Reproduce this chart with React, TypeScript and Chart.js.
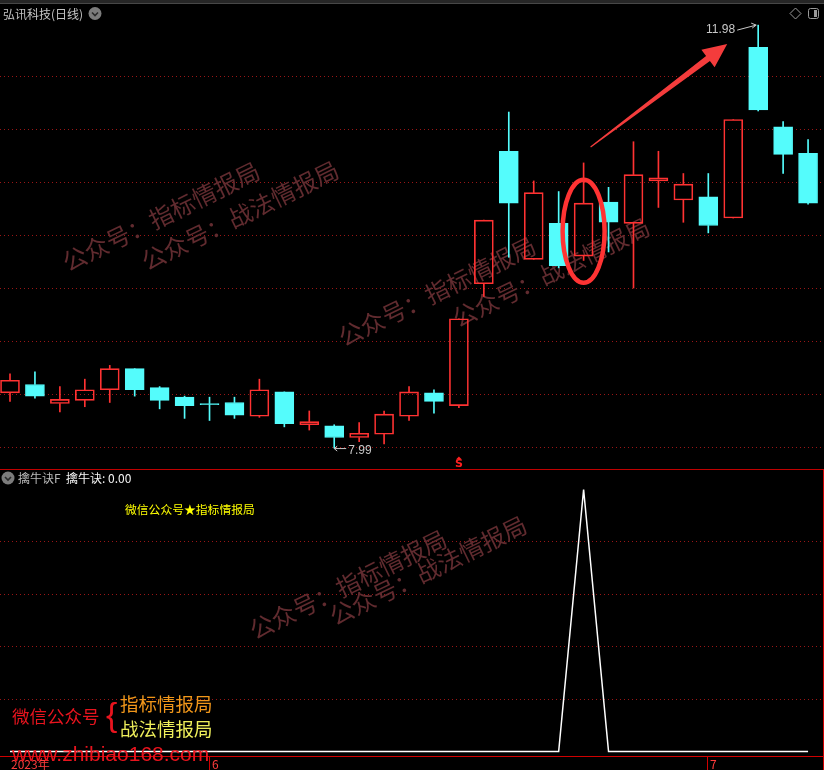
import React, { useEffect, useRef } from 'react';
import { Chart, registerables } from 'chart.js';

Chart.register(...registerables);

// ---- data ----
const dates = [
  '2023-05-22', '2023-05-23', '2023-05-24', '2023-05-25', '2023-05-26', '2023-05-29', '2023-05-30', '2023-05-31',
  '2023-06-01', '2023-06-02', '2023-06-05', '2023-06-06', '2023-06-07', '2023-06-08', '2023-06-09', '2023-06-12',
  '2023-06-13', '2023-06-14', '2023-06-15', '2023-06-16', '2023-06-19', '2023-06-20', '2023-06-21', '2023-06-26',
  '2023-06-27', '2023-06-28', '2023-06-29', '2023-06-30', '2023-07-03', '2023-07-04', '2023-07-05', '2023-07-06',
  '2023-07-07',
];
const openP = [8.51, 8.59, 8.41, 8.44, 8.54, 8.74, 8.56, 8.47, 8.41, 8.42, 8.29, 8.52, 8.21, 8.20, 8.09, 8.12, 8.29, 8.51, 8.39, 9.54, 10.79, 9.77, 10.11, 9.80, 10.31, 10.11, 10.51, 10.33, 10.36, 10.16, 11.77, 11.02, 10.77];
const highP = [8.69, 8.71, 8.57, 8.64, 8.77, 8.74, 8.57, 8.48, 8.47, 8.47, 8.64, 8.52, 8.34, 8.21, 8.23, 8.34, 8.57, 8.54, 9.21, 10.14, 11.16, 10.51, 10.41, 10.68, 10.45, 10.88, 10.79, 10.58, 10.58, 11.09, 11.98, 11.07, 10.90];
const lowP = [8.43, 8.46, 8.33, 8.38, 8.42, 8.48, 8.36, 8.27, 8.25, 8.27, 8.28, 8.19, 8.16, 7.99, 8.05, 8.03, 8.25, 8.32, 8.37, 9.42, 9.79, 9.77, 9.69, 9.76, 9.84, 9.50, 10.26, 10.12, 10.02, 10.16, 11.17, 10.58, 10.29];
const closeP = [8.63, 8.48, 8.45, 8.54, 8.74, 8.54, 8.44, 8.39, 8.40, 8.30, 8.54, 8.22, 8.24, 8.09, 8.13, 8.31, 8.52, 8.43, 9.21, 10.14, 10.30, 10.40, 9.71, 10.30, 10.12, 10.57, 10.54, 10.48, 10.09, 11.09, 11.18, 10.76, 10.30];
const signal = [0, 0, 0, 0, 0, 0, 0, 0, 0, 0, 0, 0, 0, 0, 0, 0, 0, 0, 0, 0, 0, 0, 0, 100, 0, 0, 0, 0, 0, 0, 0, 0, 0];
const priceGrid = [8, 8.5, 9, 9.5, 10, 10.5, 11, 11.5];
const signalGrid = [20, 40, 60, 80];
const axisLabels = ['2023年', '6', '7'];
const axisLabelIdx = [0, 8, 28];
const markedIdx = 23;
const breakoutIdx = 18;
const stockTitle = '弘讯科技(日线)';
const indicatorName = '擒牛诀F';
const indicatorValue = '擒牛诀: 0.00';

// ---- styles ----
const UP = '#ff3232';
const DOWN = '#54fcfc';
const GRID = '#9a1616';
const WM = '#612b2f';
const CJK = '"Noto Sans CJK SC", "Noto Sans", sans-serif';
const X_MIN = -0.401;
const X_MAX = 32.599;

const isUp = closeP.map((c, i) => c >= openP[i]);
const candleColor = isUp.map((u) => (u ? UP : DOWN));

function watermark(ctx: CanvasRenderingContext2D, text: string, x: number, y: number) {
  ctx.save();
  ctx.translate(x, y);
  ctx.rotate((-26 * Math.PI) / 180);
  ctx.font = `24px ${CJK}`;
  ctx.fillStyle = WM;
  ctx.textBaseline = 'alphabetic';
  ctx.textAlign = 'left';
  ctx.fillText(text, 0, 0);
  ctx.restore();
}

function text(ctx: CanvasRenderingContext2D, s: string, x: number, y: number, font: string, color: string, align: CanvasTextAlign = 'left') {
  ctx.save();
  ctx.font = font;
  ctx.fillStyle = color;
  ctx.textAlign = align;
  ctx.textBaseline = 'middle';
  ctx.fillText(s, x, y);
  ctx.restore();
}

function chevronIcon(ctx: CanvasRenderingContext2D, cx: number, cy: number) {
  ctx.save();
  ctx.beginPath();
  ctx.arc(cx, cy, 6.5, 0, Math.PI * 2);
  ctx.fillStyle = '#7c7c7c';
  ctx.fill();
  ctx.beginPath();
  ctx.moveTo(cx - 3, cy - 1);
  ctx.lineTo(cx, cy + 2);
  ctx.lineTo(cx + 3, cy - 1);
  ctx.strokeStyle = '#2a2a2a';
  ctx.lineWidth = 1.6;
  ctx.stroke();
  ctx.restore();
}

const mainDecor = {
  id: 'mainDecor',
  beforeDatasetsDraw(chart: any) {
    const ctx = chart.ctx as CanvasRenderingContext2D;
    watermark(ctx, '公众号：指标情报局', 68, 272);
    watermark(ctx, '公众号：战法情报局', 147, 271);
    watermark(ctx, '公众号：指标情报局', 344, 347);
    watermark(ctx, '公众号：战法情报局', 458, 328);
  },
  afterDatasetsDraw(chart: any) {
    const ctx = chart.ctx as CanvasRenderingContext2D;
    const xs = chart.scales.x;
    const ys = chart.scales.y;

    // ellipse around marked candle
    const ex = xs.getPixelForValue(markedIdx);
    const ey = ys.getPixelForValue((openP[markedIdx] + closeP[markedIdx]) / 2);
    ctx.save();
    ctx.beginPath();
    ctx.ellipse(ex, ey + 1.5, 21, 51.5, 0, 0, Math.PI * 2);
    ctx.strokeStyle = '#ff3333';
    ctx.lineWidth = 4.5;
    ctx.stroke();
    ctx.restore();

    // arrow from the marked candle to the highest high
    const peakIdx = highP.indexOf(Math.max(...highP));
    const tx = ex + 7;
    const ty = ys.getPixelForValue(highP[markedIdx]) - 16;
    const hx = xs.getPixelForValue(peakIdx) - 31;
    const hy = ys.getPixelForValue(highP[peakIdx]) + 19;
    const dx = hx - tx;
    const dy = hy - ty;
    const L = Math.hypot(dx, dy);
    const ux = dx / L;
    const uy = dy / L;
    const nx = -uy;
    const ny = ux;
    const bx = hx - 24 * ux;
    const by = hy - 24 * uy;
    ctx.save();
    ctx.beginPath();
    ctx.moveTo(tx + 0.6 * nx, ty + 0.6 * ny);
    ctx.lineTo(bx + 3.2 * nx, by + 3.2 * ny);
    ctx.lineTo(bx + 11 * nx, by + 11 * ny);
    ctx.lineTo(hx, hy);
    ctx.lineTo(bx - 11 * nx, by - 11 * ny);
    ctx.lineTo(bx - 3.2 * nx, by - 3.2 * ny);
    ctx.lineTo(tx - 0.6 * nx, ty - 0.6 * ny);
    ctx.closePath();
    ctx.fillStyle = '#f43c3c';
    ctx.fill();
    ctx.restore();

    // high label
    const px = xs.getPixelForValue(peakIdx);
    const py = ys.getPixelForValue(highP[peakIdx]);
    text(ctx, highP[peakIdx].toFixed(2), px - 23, py + 5, '12px "Liberation Sans"', '#c8c8c8', 'right');
    ctx.save();
    ctx.strokeStyle = '#c8c8c8';
    ctx.lineWidth = 1;
    ctx.beginPath();
    ctx.moveTo(px - 21, py + 5);
    ctx.lineTo(px - 2, py);
    ctx.moveTo(px - 2, py);
    ctx.lineTo(px - 7, py - 2);
    ctx.moveTo(px - 2, py);
    ctx.lineTo(px - 6, py + 3);
    ctx.stroke();
    ctx.restore();

    // low label
    const lowIdx = lowP.indexOf(Math.min(...lowP));
    const lx = xs.getPixelForValue(lowIdx);
    const ly = ys.getPixelForValue(lowP[lowIdx]);
    ctx.save();
    ctx.strokeStyle = '#c8c8c8';
    ctx.lineWidth = 1;
    ctx.beginPath();
    ctx.moveTo(lx + 12, ly + 0.5);
    ctx.lineTo(lx, ly + 0.5);
    ctx.moveTo(lx, ly + 0.5);
    ctx.lineTo(lx + 3, ly - 2);
    ctx.moveTo(lx, ly + 0.5);
    ctx.lineTo(lx + 3, ly + 3);
    ctx.stroke();
    ctx.restore();
    text(ctx, lowP[lowIdx].toFixed(2), lx + 14, ly + 3, '12px "Liberation Sans"', '#c8c8c8', 'left');

    // breakout marker
    const sx = xs.getPixelForValue(breakoutIdx);
    ctx.save();
    ctx.fillStyle = '#ff2020';
    ctx.beginPath();
    ctx.moveTo(sx, 456.5);
    ctx.lineTo(sx + 3, 459.5);
    ctx.lineTo(sx - 3, 459.5);
    ctx.closePath();
    ctx.fill();
    ctx.restore();
    text(ctx, 'S', sx, 464, 'bold 11px "DejaVu Sans"', '#ff2020', 'center');
  },
  afterDraw(chart: any) {
    const ctx = chart.ctx as CanvasRenderingContext2D;
    // top bar
    ctx.save();
    ctx.fillStyle = '#262626';
    ctx.fillRect(0, 0, 824, 3);
    ctx.fillStyle = '#474747';
    ctx.fillRect(0, 3, 824, 1);
    ctx.restore();
    text(ctx, stockTitle, 3, 14, `12px ${CJK}`, '#c4c4c4');
    chevronIcon(ctx, 95, 13.5);
    // top-right icons
    ctx.save();
    ctx.strokeStyle = '#9a9a9a';
    ctx.lineWidth = 1;
    ctx.beginPath();
    ctx.moveTo(795.5, 8);
    ctx.lineTo(801, 13.5);
    ctx.lineTo(795.5, 19);
    ctx.lineTo(790, 13.5);
    ctx.closePath();
    ctx.stroke();
    ctx.beginPath();
    ctx.roundRect(808.5, 8.5, 10, 10, 2);
    ctx.stroke();
    ctx.fillStyle = '#9a9a9a';
    ctx.fillRect(814, 10, 3, 7);
    ctx.restore();
  },
};

const subDecor = {
  id: 'subDecor',
  beforeDatasetsDraw(chart: any) {
    const ctx = chart.ctx as CanvasRenderingContext2D;
    watermark(ctx, '公众号：指标情报局', 255, 640 - 469);
    watermark(ctx, '公众号：战法情报局', 335, 626 - 469);
  },
  afterDraw(chart: any) {
    const ctx = chart.ctx as CanvasRenderingContext2D;
    const xs = chart.scales.x;
    ctx.save();
    ctx.fillStyle = '#c00000';
    ctx.fillRect(0, 0, 824, 1); // panel separator
    ctx.fillStyle = '#d00000';
    ctx.fillRect(0, 287, 824, 1); // time axis
    ctx.fillRect(823, 0, 1, 301); // right border
    axisLabelIdx.forEach((idx, k) => {
      const p = Math.round(xs.getPixelForValue(idx));
      if (k > 0) ctx.fillRect(p - 1, 288, 1, 13);
      text(ctx, axisLabels[k], p + (k > 0 ? 2 : 1), 295, `12px ${CJK}`, '#ff3c3c');
    });
    ctx.restore();

    // header
    chevronIcon(ctx, 8, 9);
    text(ctx, indicatorName, 18, 9, `12px ${CJK}`, '#b8b8b8');
    text(ctx, indicatorValue, 66, 9, `12px ${CJK}`, '#f4f4f4');
    text(ctx, '微信公众号★指标情报局', 125, 41, `11.8px ${CJK}`, '#ffff00');

    // promo
    text(ctx, '微信公众号', 12, 247, `17.5px ${CJK}`, '#e8141e');
    text(ctx, '{', 106, 248, '34px "Liberation Sans"', '#e8141e');
    text(ctx, '指标情报局', 120, 235, `18.5px ${CJK}`, '#f0961a');
    text(ctx, '战法情报局', 120, 260, `18.5px ${CJK}`, '#eeee5a');
    ctx.save();
    ctx.font = '21px "Liberation Sans"';
    ctx.fillStyle = '#e8141e';
    ctx.textBaseline = 'alphabetic';
    ctx.fillText('www.zhibiao168.com', 12, 292);
    ctx.restore();
  },
};

export default function App() {
  const mainRef = useRef<HTMLCanvasElement>(null);
  const subRef = useRef<HTMLCanvasElement>(null);

  useEffect(() => {
    const idx = dates.map((_, i) => i);
    const main = new Chart(mainRef.current as HTMLCanvasElement, {
      type: 'bar',
      data: {
        labels: dates,
        datasets: [
          {
            label: 'upperWick',
            data: idx.map((i) => ({ x: i, y: [Math.max(openP[i], closeP[i]), highP[i]] })) as any,
            backgroundColor: candleColor,
            borderWidth: 0,
            barThickness: 1,
            grouped: false,
            order: 3,
          },
          {
            label: 'lowerWick',
            data: idx.map((i) => ({ x: i, y: [lowP[i], Math.min(openP[i], closeP[i])] })) as any,
            backgroundColor: candleColor,
            borderWidth: 0,
            barThickness: 1,
            grouped: false,
            order: 2,
          },
          {
            label: 'body',
            data: idx.map((i) => ({ x: i, y: [openP[i], closeP[i]] })) as any,
            backgroundColor: isUp.map((u) => (u ? 'rgba(0,0,0,0)' : DOWN)),
            borderColor: candleColor,
            borderWidth: 1,
            borderSkipped: false,
            barThickness: 19,
            grouped: false,
            order: 1,
          } as any,
        ],
      },
      options: {
        responsive: false,
        maintainAspectRatio: false,
        animation: false,
        devicePixelRatio: 1,
        events: [],
        layout: { padding: { left: 0, right: 1, top: 0, bottom: 0 } },
        plugins: { legend: { display: false }, tooltip: { enabled: false } },
        scales: {
          x: { type: 'linear', min: X_MIN, max: X_MAX, offset: false, display: false },
          y: {
            type: 'linear',
            min: 7.7925,
            max: 12.217,
            display: true,
            ticks: { display: false },
            grid: { color: GRID, drawTicks: false, lineWidth: 1 },
            border: { display: false, dash: [1, 3] },
            afterBuildTicks: (s: any) => {
              s.ticks = priceGrid.map((v) => ({ value: v }));
            },
          } as any,
        },
      },
      plugins: [mainDecor],
    });

    const sub = new Chart(subRef.current as HTMLCanvasElement, {
      type: 'line',
      data: {
        datasets: [
          {
            label: '擒牛诀',
            data: idx.map((i) => ({ x: i, y: signal[i] })),
            borderColor: '#ffffff',
            borderWidth: 1.5,
            pointRadius: 0,
            tension: 0,
          },
        ],
      },
      options: {
        responsive: false,
        maintainAspectRatio: false,
        animation: false,
        devicePixelRatio: 1,
        events: [],
        layout: { padding: { left: 0, right: 1, top: 2, bottom: 14 } },
        plugins: { legend: { display: false }, tooltip: { enabled: false } },
        scales: {
          x: { type: 'linear', min: X_MIN, max: X_MAX, offset: false, display: false },
          y: {
            type: 'linear',
            min: -1.718,
            max: 107.06,
            display: true,
            ticks: { display: false },
            grid: { color: GRID, drawTicks: false, lineWidth: 1 },
            border: { display: false, dash: [1, 3] },
            afterBuildTicks: (s: any) => {
              s.ticks = signalGrid.map((v) => ({ value: v }));
            },
          } as any,
        },
      },
      plugins: [subDecor],
    });

    return () => {
      main.destroy();
      sub.destroy();
    };
  }, []);

  return (
    <div style={{ position: 'fixed', left: 0, top: 0, width: 824, height: 770, background: '#000', overflow: 'hidden' }}>
      <canvas ref={mainRef} width={824} height={469} style={{ position: 'absolute', left: 0, top: 0, width: 824, height: 469, display: 'block' }} />
      <canvas ref={subRef} width={824} height={301} style={{ position: 'absolute', left: 0, top: 469, width: 824, height: 301, display: 'block' }} />
    </div>
  );
}
